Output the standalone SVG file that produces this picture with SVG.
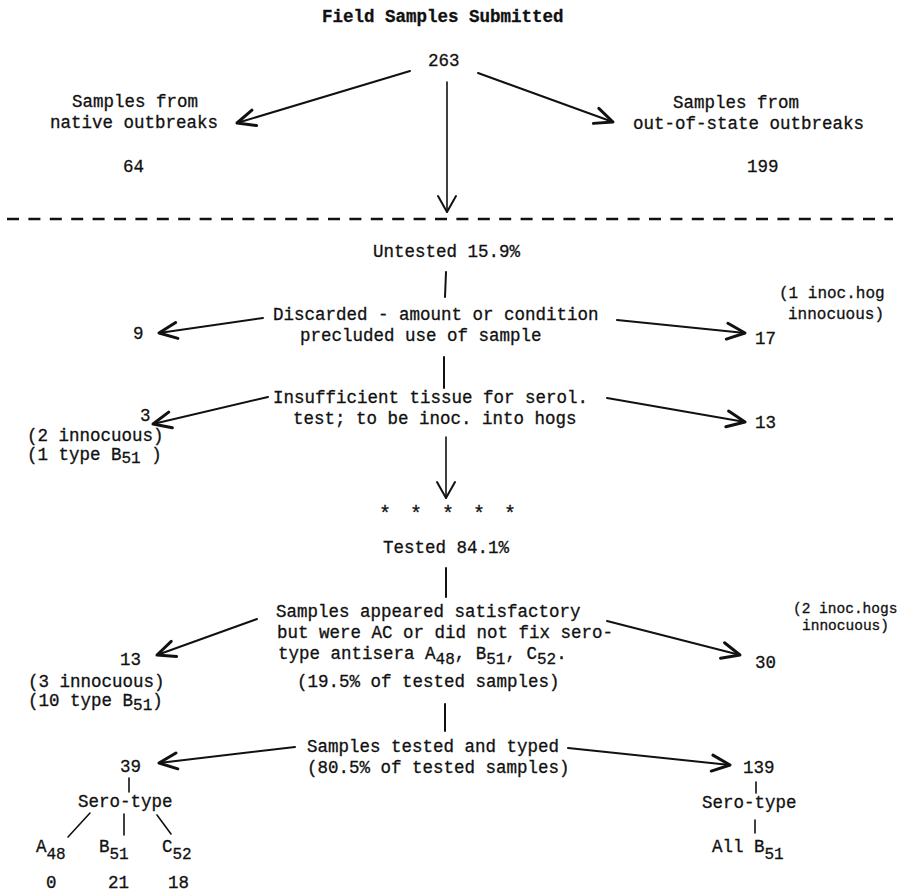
<svg xmlns="http://www.w3.org/2000/svg" width="901" height="893" viewBox="0 0 901 893">
<style>
text{font-family:"Liberation Mono","Courier New",monospace;font-size:17.5px;fill:#111;stroke:#111;stroke-width:0.3}
.b{font-weight:bold}
.sub{font-size:16px}
.note{font-size:16px}
.note2{font-size:14.5px}
.star{font-size:20px}
.ln{stroke:#111;stroke-width:2;fill:none;stroke-linecap:round}
.thin{stroke:#111;stroke-width:1.6;fill:none;stroke-linecap:round}
.dash{stroke:#111;stroke-width:2.5;stroke-dasharray:12 9.4;fill:none}
</style>
<defs>
<marker id="ah" markerUnits="userSpaceOnUse" viewBox="-20 -10 22 20" refX="0" refY="0" markerWidth="22" markerHeight="20" orient="auto">
<path d="M-18,-8 L0,0 L-18,8" fill="none" stroke="#111" stroke-width="3" stroke-linecap="round" stroke-linejoin="round"/>
</marker>
<marker id="av" markerUnits="userSpaceOnUse" viewBox="-20 -12 22 24" refX="0" refY="0" markerWidth="22" markerHeight="24" orient="auto">
<path d="M-16,-9 L0,0 L-16,9" fill="none" stroke="#111" stroke-width="2" stroke-linecap="round" stroke-linejoin="round"/>
</marker>
</defs>
<rect width="901" height="893" fill="#fff"/>

<g id="connectors">
<line class="ln" x1="410" y1="71" x2="237" y2="123" marker-end="url(#ah)"/>
<line class="ln" x1="478" y1="73" x2="613" y2="122" marker-end="url(#ah)"/>
<line class="thin" x1="447" y1="82" x2="447" y2="212" marker-end="url(#av)"/>
<line class="dash" x1="7" y1="219" x2="893" y2="219"/>
<line class="ln" x1="446" y1="272" x2="445" y2="297"/>
<line class="ln" x1="263" y1="318" x2="159" y2="333" marker-end="url(#ah)"/>
<line class="ln" x1="617" y1="320" x2="745" y2="333" marker-end="url(#ah)"/>
<line class="ln" x1="444" y1="357" x2="444" y2="388"/>
<line class="ln" x1="268" y1="397" x2="153" y2="424" marker-end="url(#ah)"/>
<line class="ln" x1="607" y1="398" x2="745" y2="422" marker-end="url(#ah)"/>
<line class="thin" x1="446" y1="437" x2="446" y2="498" marker-end="url(#av)"/>
<line class="ln" x1="446" y1="568" x2="446" y2="597"/>
<line class="ln" x1="257" y1="619" x2="157" y2="655" marker-end="url(#ah)"/>
<line class="ln" x1="607" y1="621" x2="740" y2="655" marker-end="url(#ah)"/>
<line class="ln" x1="445" y1="704" x2="445" y2="731"/>
<line class="ln" x1="295" y1="747" x2="159" y2="763" marker-end="url(#ah)"/>
<line class="ln" x1="568" y1="748" x2="730" y2="765" marker-end="url(#ah)"/>
<line class="thin" x1="129" y1="778" x2="129" y2="792"/>
<line class="thin" x1="90" y1="813" x2="68" y2="837"/>
<line class="thin" x1="124" y1="814" x2="124" y2="835"/>
<line class="thin" x1="157" y1="815" x2="171" y2="834"/>
<line class="thin" x1="756" y1="782" x2="756" y2="793"/>
<line class="thin" x1="755" y1="820" x2="755" y2="833"/>
</g>

<g id="title"><text class="b" x="322" y="22">Field Samples Submitted</text></g>
<g id="total"><text x="428" y="66">263</text></g>
<g id="native"><text x="72" y="107">Samples from</text><text x="50" y="128">native outbreaks</text><text x="123" y="172">64</text></g>
<g id="outofstate"><text x="673" y="108">Samples from</text><text x="633" y="129">out-of-state outbreaks</text><text x="747" y="172">199</text></g>
<g id="untested"><text x="373" y="257">Untested 15.9%</text></g>
<g id="discarded"><text x="273" y="320">Discarded - amount or condition</text><text x="300" y="341">precluded use of sample</text></g>
<g id="discarded-left"><text x="133" y="339">9</text></g>
<g id="discarded-right"><text class="note" x="779" y="298">(1 inoc.hog</text><text class="note" x="788" y="319">innocuous)</text><text x="755" y="344">17</text></g>
<g id="insufficient"><text x="273" y="403">Insufficient tissue for serol.</text><text x="293" y="424">test; to be inoc. into hogs</text></g>
<g id="insufficient-left"><text x="140" y="421">3</text><text x="27" y="441">(2 innocuous)</text><text x="27" y="460">(1 type B<tspan class="sub" dy="3">51</tspan><tspan dy="-3"> )</tspan></text></g>
<g id="insufficient-right"><text x="755" y="428">13</text></g>
<g id="stars"><text class="star" x="379" y="520">*</text><text class="star" x="410" y="520">*</text><text class="star" x="442" y="520">*</text><text class="star" x="473" y="520">*</text><text class="star" x="504" y="520">*</text></g>
<g id="tested"><text x="383" y="553">Tested 84.1%</text></g>
<g id="appeared"><text x="276" y="617">Samples appeared satisfactory</text><text x="277" y="638">but were AC or did not fix sero-</text><text x="278" y="659">type antisera A<tspan class="sub" dy="5">48</tspan><tspan dy="-5">, B</tspan><tspan class="sub" dy="5">51</tspan><tspan dy="-5">, C</tspan><tspan class="sub" dy="5">52</tspan><tspan dy="-5">.</tspan></text><text x="297" y="687">(19.5% of tested samples)</text></g>
<g id="appeared-left"><text x="120" y="665">13</text><text x="28" y="687">(3 innocuous)</text><text x="28" y="706">(10 type B<tspan class="sub" dy="4">51</tspan><tspan dy="-4">)</tspan></text></g>
<g id="appeared-right"><text class="note2" x="793" y="613">(2 inoc.hogs</text><text class="note2" x="802" y="630">innocuous)</text><text x="755" y="668">30</text></g>
<g id="typed"><text x="307" y="752">Samples tested and typed</text><text x="307" y="773">(80.5% of tested samples)</text></g>
<g id="native-typed"><text x="120" y="772">39</text><text x="78" y="807">Sero-type</text>
<text x="36" y="852">A<tspan class="sub" dy="7">48</tspan></text>
<text x="99" y="852">B<tspan class="sub" dy="7">51</tspan></text>
<text x="162" y="852">C<tspan class="sub" dy="7">52</tspan></text>
<text x="46" y="888">0</text><text x="108" y="888">21</text><text x="168" y="888">18</text></g>
<g id="out-typed"><text x="743" y="773">139</text><text x="702" y="808">Sero-type</text><text x="712" y="852">All B<tspan class="sub" dy="7">51</tspan></text></g>
</svg>
